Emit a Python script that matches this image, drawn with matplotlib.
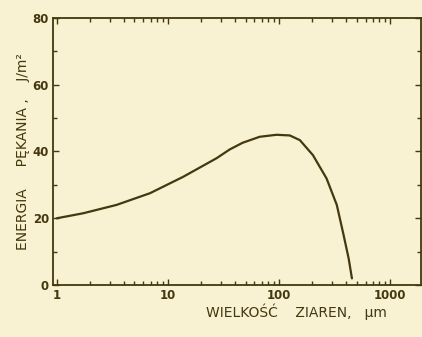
import matplotlib
matplotlib.use("Agg")
import matplotlib.pyplot as plt
from matplotlib.ticker import FixedLocator, LogLocator, NullFormatter

grain_size = [1, 1.73, 3.45, 6.9, 13.7, 27.5, 36, 47, 67, 95, 125, 154, 202, 268, 331, 381, 423, 453]
energy = [20.0, 21.5, 24.0, 27.5, 32.4, 38.0, 40.6, 42.6, 44.4, 45.0, 44.8, 43.4, 38.9, 31.9, 24.0, 15.0, 8.0, 2.0]
x_ticks = [1, 10, 100, 1000]
x_tick_labels = ["1", "10", "100", "1000"]
y_ticks = [0, 20, 40, 60, 80]
y_tick_labels = ["0", "20", "40", "60", "80"]

ink = "#43380f"
paper = "#f8f1d2"

fig = plt.figure(figsize=(4.22, 3.37), dpi=100, facecolor=paper)
ax = fig.add_axes([0.126, 0.154, 0.872, 0.793])
ax.set_facecolor(paper)

ax.plot(grain_size, energy, color=ink, lw=1.6, solid_capstyle="round",
        solid_joinstyle="round")

ax.set_xscale("log")
ax.set_xlim(0.93, 1900)
ax.set_ylim(0, 80)

ax.set_xticks(x_ticks)
ax.set_xticklabels(x_tick_labels)
ax.xaxis.set_minor_locator(LogLocator(base=10, subs=range(2, 10)))
ax.xaxis.set_minor_formatter(NullFormatter())
ax.set_yticks(y_ticks)
ax.set_yticklabels(y_tick_labels)
ax.yaxis.set_minor_locator(FixedLocator([10, 30, 50, 70]))

for s in ax.spines.values():
    s.set_color(ink)
    s.set_linewidth(1.3)

ax.tick_params(which="both", direction="in", top=True, right=True, colors=ink,
               labelcolor=ink, labelsize=8.5, width=1.0)
ax.tick_params(which="major", length=4, pad=3)
ax.tick_params(which="minor", length=3)
for lab in ax.get_xticklabels() + ax.get_yticklabels():
    lab.set_fontweight("bold")
    lab.set_family("DejaVu Sans Condensed")

ax.set_xlabel("WIELKOŚĆ    ZIAREN,   μm", color=ink, fontsize=10,
              family="DejaVu Sans", labelpad=1, x=0.66)
ax.set_ylabel("ENERGIA     PĘKANIA ,    J/m²", color=ink, fontsize=10,
              family="DejaVu Sans", labelpad=2, y=0.50)

fig.savefig("out.png", dpi=100, facecolor=paper)
